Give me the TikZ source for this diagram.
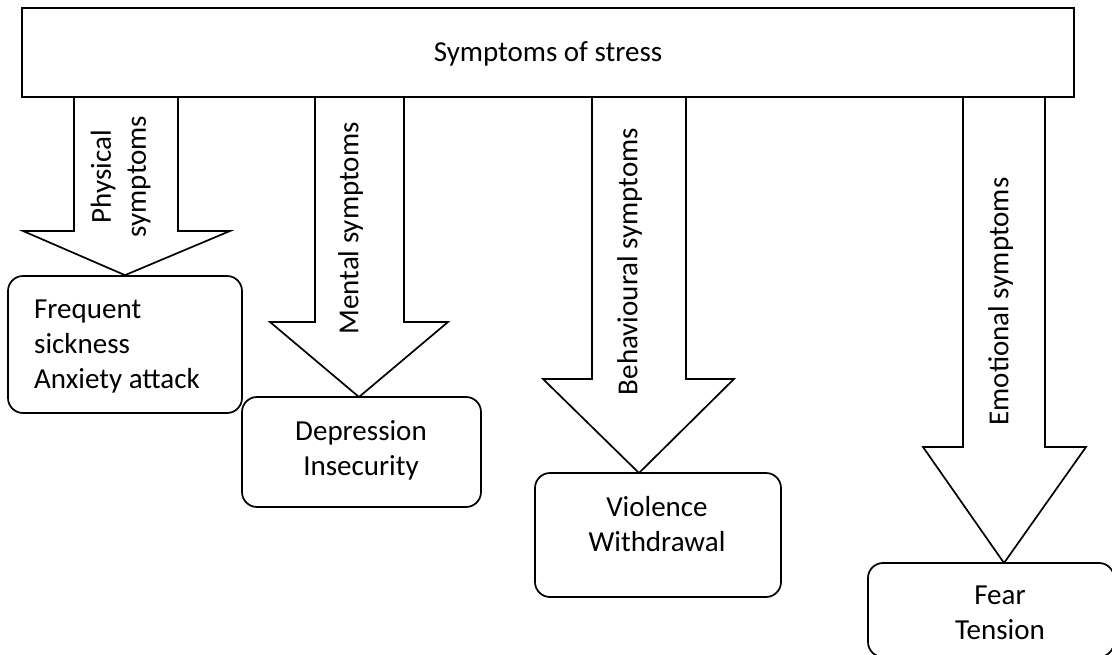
\documentclass[tikz,border=0pt]{standalone}
\usepackage{fontspec}
\setmainfont{Carlito}
\begin{document}
\begin{tikzpicture}[x=1pt,y=-1pt,
  line width=1.7pt, line join=miter,
  lab/.style={font=\fontsize{29}{35}\selectfont, inner sep=0pt},
  rlab/.style={lab, rotate=90, align=center},
  card/.style={draw, rounded corners=15pt, inner sep=0pt},
  blockarrow/.style={draw, fill=white}]
\useasboundingbox (0,0) rectangle (1112,655);
\clip (0,0) rectangle (1112,655);

% result boxes
\node[card, minimum width=234pt, minimum height=137pt] (phys) at (125,344.5) {};
\node[card, minimum width=239pt, minimum height=110pt] (ment) at (361.5,452) {};
\node[card, minimum width=246pt, minimum height=124pt] (beh) at (658,535) {};
\node[card, minimum width=246pt, minimum height=94pt] (emo) at (991,610) {};

\node[lab, align=left] (physt) at (117,346.8) {Frequent\\sickness\\Anxiety attack};
\node[lab, align=center] (mentt) at (361,450.8) {Depression\\Insecurity};
\node[lab, align=center] (beht) at (657,524.5) {Violence\\Withdrawal};
\node[lab, align=center] (emot) at (1000,612.8) {Fear\\Tension};

% block arrows
\draw[blockarrow] (74,97) -- (74,231) -- (23,231) -- (phys.north) -- (230,231) -- (178,231) -- (178,97) -- cycle;
\draw[blockarrow] (315,97) -- (315,322) -- (270,322) -- (359,397) -- (448,322) -- (404,322) -- (404,97) -- cycle;
\draw[blockarrow] (592,97) -- (592,379) -- (543,379) -- (639,473) -- (734,379) -- (686,379) -- (686,97) -- cycle;
\draw[blockarrow] (963,97) -- (963,447) -- (923,447) -- (1004,563) -- (1086,447) -- (1045,447) -- (1045,97) -- cycle;

\node[rlab] (physl) at (120.6,176.5) {Physical\\symptoms};
\node[rlab] (mentl) at (350.6,228.5) {Mental symptoms};
\node[rlab] (behl) at (629.6,261.5) {Behavioural symptoms};
\node[rlab] (emol) at (1000.6,301.5) {Emotional symptoms};

% top box
\node[draw, fill=white, minimum width=1052pt, minimum height=89pt, inner sep=0pt] (top) at (548,52.5) {};
\node[lab, anchor=base] (topt) at (548,62) {Symptoms of stress};
\end{tikzpicture}
\end{document}
